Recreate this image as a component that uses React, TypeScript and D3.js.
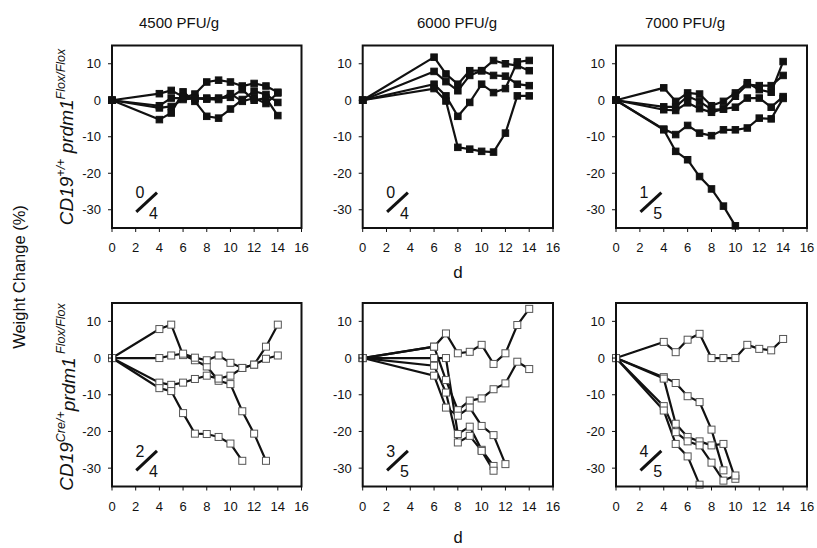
import React from 'react';
import * as d3 from 'd3';

const daysA = [0, 4, 5, 6, 7, 8, 9, 10, 11, 12, 13, 14];
const daysB = [0, 6, 7, 8, 9, 10, 11, 12, 13, 14];

const xTicks = [0, 2, 4, 6, 8, 10, 12, 14, 16];
const yTicks = [10, 0, -10, -20, -30];
const doseTitles = ['4500 PFU/g', '6000 PFU/g', '7000 PFU/g'];
const ratios = [['0', '4'], ['0', '4'], ['1', '5'], ['2', '4'], ['3', '5'], ['4', '5']];

type S = (number | null)[];

// Row 1: CD19+/+ prdm1 Flox/Flox (filled squares)
const wt4500: S[] = [
  [0, -1.5, 0.6, 0.6, 1.7, 5, 5.5, 5, 3.9, 4.6, 3.9, 2.2],
  [0, -5.3, -3.5, 2.3, -0.3, -4.4, -4.9, -2.4, 0.2, 2.5, 1.6, -0.6],
  [0, 1.8, 2.7, 1.0, 0.5, 0.6, 0.6, 0.8, 2.9, 0, 0.6, -4.2],
  [0, -2.1, -1.7, 0.2, 0.5, 0.3, 0.2, 1.8, -0.3, 0.6, -0.9, 2.0],
];
const wt6000: S[] = [
  [0, 11.8, 7.2, 4.4, 8.1, 8.1, 10.9, 10, 9.5, 8.1],
  [0, 7.9, 5.1, 2.6, 6.8, 8.1, 6.8, 6.6, 4.4, 4.0],
  [0, 4.4, 1.2, -4.4, -0.6, 4.4, 2.1, 3.2, 10.5, 10.9],
  [0, 3.2, -0.2, -12.9, -13.4, -14.0, -14.2, -9, 1.2, 1.2],
];
const wt7000: S[] = [
  [0, 3.4, -0.3, 2, 1.7, -1.5, -0.3, 2, 4.8, 2.9, 2.2, 10.6],
  [0, -1.8, -1.8, 1.1, -0.3, -2.6, -2.4, 1.1, 4.3, 4, 4, 6.8],
  [0, -2.6, -2.8, -0.7, -2.3, -3.3, -2.4, -1.9, 0.6, 0.6, -1.9, 1],
  [0, -7.9, -9.4, -6.9, -9, -9.7, -8.1, -8.1, -7.6, -4.9, -5.1, 0.5],
  [0, -8.1, -14, -16.3, -20.9, -24.3, -29, -34.4, null, null, null, null],
];
// Row 2: CD19Cre/+ prdm1 Flox/Flox (open squares)
const cre4500: S[] = [
  [0, 7.9, 9.1, 0.8, -0.6, -2.3, -6.2, -7.1, -14.5, -20.6, -28, null],
  [0, 0, 0.7, 1.2, 0.1, -0.6, 0.7, -1.3, -2.7, -1.8, 3.1, 9.1],
  [0, -6.7, -7.3, -6.7, -5.7, -4.8, -5.6, -4.8, -2.7, -1.8, -0.2, 0.7],
  [0, -8.2, -9, -15, -20.6, -20.7, -21.5, -23.3, -28, null, null, null],
];
const cre6000: S[] = [
  [0, 3.1, 6.7, 1.3, 1.7, 3.6, -1.6, 1.3, 9, 13.4],
  [0, 3.1, -6.0, -14.2, -11.6, -11, -8.5, -6.9, -1.0, -3.0],
  [0, -4.8, -13.5, -15.7, -13.5, -18.5, -21, -28.9, null, null],
  [0, 0, 0, -20.7, -18.7, -25, -29.4, null, null, null],
  [0, -2.1, -9.4, -23, -21.2, -25.3, -30.7, null, null, null],
];
const cre7000: S[] = [
  [0, 4.4, 1.6, 5, 6.6, 0, 0, 0, 3.6, 2.5, 2.1, 5.2],
  [0, -5.2, -6.8, -10.4, -12, -19.5, -30.6, null, null, null, null, null],
  [0, -5.6, -17.9, -21.5, -22.7, -23.8, -23.4, -32.9, null, null, null, null],
  [0, -13.1, -20.2, -22.7, -23.8, -28.5, -33.4, -32, null, null, null, null],
  [0, -14.3, -23.4, -26.8, -34.5, null, null, null, null, null, null, null],
];

const panelSeries = [wt4500, wt6000, wt7000, cre4500, cre6000, cre7000];
const panelDays = [daysA, daysB, daysA, daysA, daysB, daysA];

const colX = [[112, 301.5], [362.7, 553], [616, 807]];
const rowY = [[45.5, 228], [303, 486.5]];
const titleX = [179, 457, 685];

const FONT = 'Liberation Sans, Arial, sans-serif';

function Panel({ idx }: { idx: number }) {
  const col = idx % 3;
  const row = Math.floor(idx / 3);
  const [x0, x1] = colX[col];
  const [yt, yb] = rowY[row];
  const x = d3.scaleLinear().domain([0, 16]).range([x0, x1]);
  const y = d3.scaleLinear().domain([-35, 15]).range([yb, yt]);
  const days = panelDays[idx];
  const series = panelSeries[idx];
  const filled = row === 0;
  const line = d3
    .line<[number, number | null]>()
    .defined((d) => d[1] !== null)
    .x((d) => x(d[0]))
    .y((d) => y(d[1] as number));
  const ms = filled ? 6.5 : 7;
  const [num, den] = ratios[idx];
  return (
    <g>
      {series.map((s, i) => (
        <path
          key={'l' + i}
          d={line(days.map((d, j) => [d, s[j]] as [number, number | null])) || ''}
          fill="none"
          stroke="#111"
          strokeWidth={2.2}
        />
      ))}
      {series.map((s, i) =>
        days.map((d, j) =>
          s[j] === null ? null : (
            <rect
              key={'m' + i + '-' + j}
              x={x(d) - ms / 2}
              y={y(s[j] as number) - ms / 2}
              width={ms}
              height={ms}
              fill={filled ? '#111' : '#fff'}
              stroke={filled ? '#111' : '#555'}
              strokeWidth={1}
            />
          )
        )
      )}
      <rect x={x0} y={yt} width={x1 - x0} height={yb - yt} fill="none" stroke="#111" strokeWidth={2} />
      {xTicks.map((t) => (
        <g key={'xt' + t}>
          <line x1={x(t)} x2={x(t)} y1={yb} y2={yb + 4} stroke="#111" strokeWidth={1} />
          <text x={x(t)} y={yb + 24} textAnchor="middle" fontSize={13} fontFamily={FONT} fill="#111">
            {t}
          </text>
        </g>
      ))}
      {yTicks.map((t) => (
        <g key={'yt' + t}>
          <line x1={x0 - 4} x2={x0} y1={y(t)} y2={y(t)} stroke="#111" strokeWidth={1} />
          <text x={x0 - 11} y={y(t) + 4.5} textAnchor="end" fontSize={13} fontFamily={FONT} fill="#111">
            {t}
          </text>
        </g>
      ))}
      <text x={x(2.35)} y={y(-25.4) + 5.5} textAnchor="middle" fontSize={16} fontFamily={FONT} fill="#111">
        {num}
      </text>
      <line x1={x(2.05)} y1={y(-30.6)} x2={x(3.8)} y2={y(-25.3)} stroke="#111" strokeWidth={3} />
      <text x={x(3.5)} y={y(-30.8) + 6} textAnchor="middle" fontSize={16} fontFamily={FONT} fill="#111">
        {den}
      </text>
    </g>
  );
}

export default function App() {
  return (
    <svg
      width={817}
      height={548}
      viewBox="0 0 817 548"
      style={{ position: 'absolute', left: 0, top: 0, background: '#fff' }}
    >
      <rect width={817} height={548} fill="#fff" />
      {doseTitles.map((t, i) => (
        <text key={t} x={titleX[i]} y={28} textAnchor="middle" fontSize={15} fontFamily={FONT} fill="#111">
          {t}
        </text>
      ))}
      {[0, 1, 2, 3, 4, 5].map((i) => (
        <Panel key={i} idx={i} />
      ))}
      <text x={458} y={278} textAnchor="middle" fontSize={17} fontFamily={FONT} fill="#111">d</text>
      <text x={458} y={543} textAnchor="middle" fontSize={16.5} fontFamily={FONT} fill="#111">d</text>
      <text
        transform="translate(25,277) rotate(-90)"
        textAnchor="middle"
        fontSize={16.5}
        fontFamily={FONT}
        fill="#111"
      >
        Weight Change (%)
      </text>
      <text
        transform="translate(73,137) rotate(-90)"
        textAnchor="middle"
        fontSize={19}
        fontStyle="italic"
        fontFamily={FONT}
        fill="#111"
      >
        CD19
        <tspan dy={-8} fontSize={12.5}>+/+</tspan>
        <tspan dy={8}> prdm1</tspan>
        <tspan dy={-8} fontSize={12.5}>Flox/Flox</tspan>
      </text>
      <text
        transform="translate(73,397) rotate(-90)"
        textAnchor="middle"
        fontSize={19}
        fontStyle="italic"
        fontFamily={FONT}
        fill="#111"
      >
        CD19
        <tspan dy={-8} fontSize={12.5}>Cre/+</tspan>
        <tspan dy={10}>prdm1</tspan>
        <tspan dy={-10} fontSize={12.5}> Flox/Flox</tspan>
      </text>
    </svg>
  );
}
